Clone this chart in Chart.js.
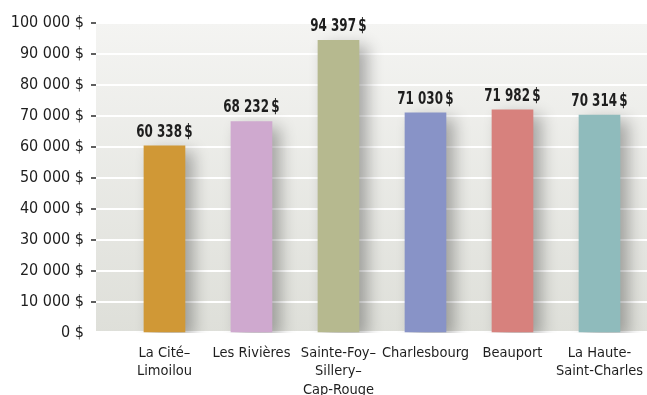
<!DOCTYPE html>
<html lang="fr">
<head>
    <meta charset="UTF-8">
    <title>Revenu médian par arrondissement</title>
    <script src="https://cdn.jsdelivr.net/npm/chart.js"></script>
    <style>
        html, body { margin: 0; padding: 0; background: #fff; }
        .chart-box { width: 647px; height: 395px; position: relative; }
    </style>
</head>
<body>
<div class="chart-box">
    <canvas id="incomeChart"></canvas>
</div>
<script>
// arrondissements et revenus
const districts = [
    ['La Cité–', 'Limoilou'],
    ['Les Rivières'],
    ['Sainte-Foy–', 'Sillery–', 'Cap-Rouge'],
    ['Charlesbourg'],
    ['Beauport'],
    ['La Haute-', 'Saint-Charles']
];
const incomes = [60338, 68232, 94397, 71030, 71982, 70314];
const barColors = ['#d09836', '#cfa9cf', '#b6b98f', '#8893c7', '#d7817d', '#8fbbbc'];
const yMax = 100000;
const yStep = 10000;

const narrow = "'Liberation Sans Narrow', 'DejaVu Sans Condensed', sans-serif";

function money(n, sep) {
    return String(n).replace(/\B(?=(\d{3})+(?!\d))/g, ' ') + sep + '$';
}

// fond dégradé derrière la zone du graphique
const plotBackground = {
    id: 'plotBackground',
    beforeDraw(chart) {
        const { ctx, chartArea: a } = chart;
        const g = ctx.createLinearGradient(0, a.top, 0, a.bottom);
        g.addColorStop(0, '#f4f4f2');
        g.addColorStop(1, '#dedfd9');
        ctx.save();
        ctx.fillStyle = g;
        ctx.fillRect(a.left, a.top + 1, a.right - a.left, a.bottom - a.top - 3);
        ctx.restore();
    }
};

// ombre portée des barres + étiquettes de valeur
const barShadow = {
    id: 'barShadow',
    beforeDatasetsDraw(chart) {
        const ctx = chart.ctx;
        ctx.save();
        ctx.shadowColor = 'rgba(0, 0, 0, 0.3)';
        ctx.shadowBlur = 16;
        ctx.shadowOffsetX = 8;
        ctx.shadowOffsetY = 6;
    },
    afterDatasetsDraw(chart) {
        const ctx = chart.ctx;
        ctx.restore();
        chart.getDatasetMeta(0).data.forEach((bar, i) => {
            ctx.save();
            ctx.translate(bar.x, bar.y - 9);
            ctx.scale(0.78, 1);
            ctx.font = 'bold 17px ' + narrow;
            ctx.fillStyle = '#1e1e1e';
            ctx.textAlign = 'center';
            ctx.textBaseline = 'alphabetic';
            ctx.fillText(money(incomes[i], '\u2009'), 0, 0);
            ctx.restore();
        });
    }
};

new Chart(document.getElementById('incomeChart'), {
    type: 'bar',
    data: {
        datasets: [{
            data: incomes.map((v, i) => ({ x: i, y: v })),
            backgroundColor: barColors,
            barThickness: 41,
            borderWidth: 0
        }]
    },
    options: {
        responsive: true,
        maintainAspectRatio: false,
        animation: false,
        layout: { padding: { top: 23, right: 0, bottom: 0, left: 0 } },
        plugins: {
            legend: { display: false },
            tooltip: { enabled: false }
        },
        scales: {
            x: {
                type: 'linear',
                offset: false,
                min: -0.787,
                max: 5.546,
                grid: { display: false },
                border: { display: false },
                afterBuildTicks: axis => { axis.ticks = districts.map((_, i) => ({ value: i })); },
                afterFit: axis => { axis.height = 62; },
                ticks: {
                    autoSkip: false,
                    maxRotation: 0,
                    padding: 3,
                    color: '#1e1e1e',
                    font: { family: narrow, size: 14.5, lineHeight: 1.27 },
                    callback: v => districts[v] || ''
                }
            },
            y: {
                min: 0,
                max: yMax,
                afterFit: axis => { axis.width = 96; },
                border: { display: false },
                grid: {
                    color: c => (c.tick.value === 0 || c.tick.value === yMax) ? 'rgba(0,0,0,0)' : '#ffffff',
                    lineWidth: 2,
                    tickColor: c => c.tick.value === 0 ? 'rgba(0,0,0,0)' : '#2a2a2a',
                    tickWidth: 1.5,
                    tickLength: 5
                },
                ticks: {
                    stepSize: yStep,
                    padding: 7,
                    color: '#1e1e1e',
                    font: { family: narrow, size: 16 },
                    callback: v => money(v, ' ')
                }
            }
        }
    },
    plugins: [plotBackground, barShadow]
});
</script>
</body>
</html>
